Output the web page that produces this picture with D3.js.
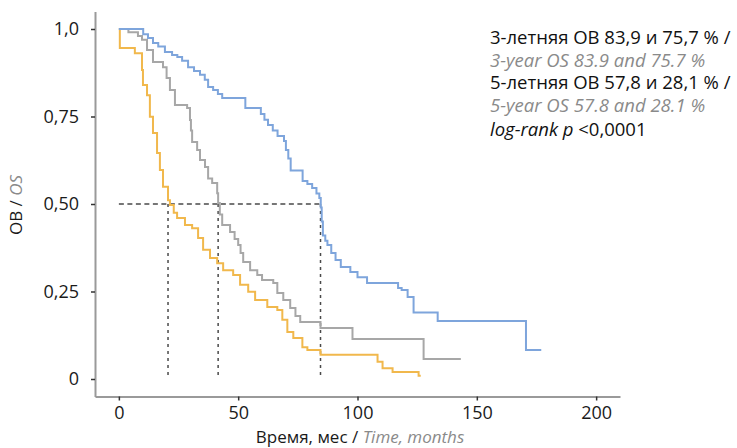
<!DOCTYPE html>
<html>
<head>
<meta charset="utf-8">
<script src="https://cdn.jsdelivr.net/npm/d3@7"></script>
<style>
  body { margin: 0; background: #fff; }
  text { font-family: "Open Sans", "Noto Sans", sans-serif; }
</style>
</head>
<body>
<div id="chart"></div>
<script>
// Kaplan-Meier steps (months, survival)
const blueTime = [0, 10.2, 12.2, 14.3, 16.5, 19.3, 22.3, 24.5, 26.5, 29, 31.5, 34, 36, 37.4, 39.5, 41.5, 43.3, 53, 59.5, 61, 62.5, 64.5, 66.5, 69.2, 70, 71, 72, 77, 79, 81, 82.8, 84, 84.6, 85, 85.5, 86.5, 87.4, 89, 90.8, 93, 97, 100, 104, 117, 118.5, 121, 123.5, 133.6, 170.6, 177];
const blueSurv = [1, 0.985, 0.974, 0.96, 0.95, 0.934, 0.926, 0.92, 0.909, 0.891, 0.88, 0.869, 0.855, 0.834, 0.826, 0.814, 0.803, 0.774, 0.757, 0.741, 0.726, 0.71, 0.694, 0.68, 0.654, 0.63, 0.596, 0.566, 0.557, 0.546, 0.53, 0.517, 0.49, 0.45, 0.41, 0.395, 0.383, 0.36, 0.34, 0.32, 0.306, 0.291, 0.274, 0.26, 0.254, 0.234, 0.19, 0.166, 0.083, 0.083];

const grayTime = [0, 4, 8, 9.7, 11.8, 14.3, 18.5, 20, 21.4, 23.5, 28.6, 29.8, 30.2, 30.7, 32.8, 34, 36.1, 37.4, 39.1, 41.2, 41.6, 42.3, 43.3, 46.6, 48.5, 50, 51, 52.1, 55, 58, 60, 64.7, 66.4, 68.9, 71.8, 74, 76, 84.5, 97.9, 127.7, 143.3];
const graySurv = [1, 0.991, 0.98, 0.969, 0.94, 0.906, 0.891, 0.86, 0.826, 0.783, 0.774, 0.74, 0.71, 0.677, 0.654, 0.626, 0.606, 0.573, 0.56, 0.531, 0.503, 0.47, 0.44, 0.42, 0.4, 0.383, 0.36, 0.334, 0.311, 0.297, 0.283, 0.274, 0.246, 0.226, 0.203, 0.18, 0.163, 0.146, 0.114, 0.057, 0.057];

const yellowTime = [0, 0.4, 6.7, 9.7, 10.1, 11.8, 13, 14.3, 16, 17.2, 18.5, 20.6, 21.4, 23, 24.4, 27.7, 30.7, 33.2, 35.3, 38.2, 41.2, 43.7, 47.9, 50.8, 54.2, 57.1, 62.2, 66.4, 68.5, 70.6, 73.1, 76.9, 79, 84.5, 108.4, 110.5, 114.7, 125.6, 126.5];
const yellowSurv = [1, 0.946, 0.931, 0.883, 0.84, 0.811, 0.749, 0.703, 0.646, 0.597, 0.549, 0.511, 0.497, 0.475, 0.46, 0.44, 0.431, 0.403, 0.369, 0.346, 0.331, 0.311, 0.297, 0.269, 0.249, 0.226, 0.206, 0.197, 0.169, 0.134, 0.117, 0.091, 0.083, 0.069, 0.049, 0.031, 0.02, 0.009, 0.009];

const medians = [20.6, 41.6, 84.5];

const xTicks = [0, 50, 100, 150, 200];
const yTicks = [0, 0.25, 0.5, 0.75, 1.0];
const yTickLabels = ["0", "0,25", "0,50", "0,75", "1,0"];

const notes = [
  [{ t: "3-летняя ОВ 83,9 и 75,7 % /" }],
  [{ t: "3-year OS 83.9 and 75.7 %", en: true }],
  [{ t: "5-летняя ОВ 57,8 и 28,1 % /" }],
  [{ t: "5-year OS 57.8 and 28.1 %", en: true }],
  [{ t: "log-rank p", it: true }, { t: " <0,0001" }],
];

const WIDTH = 737, HEIGHT = 448;

const svg = d3.select("#chart").append("svg")
  .attr("width", WIDTH).attr("height", HEIGHT);

const x = d3.scaleLinear().domain([-10, 210]).range([95, 620]);
const y = d3.scaleLinear().domain([-0.05, 1.05]).range([396.5, 11.5]);

/** axes */
const yAxis = svg.append("g").attr("transform", "translate(95,0)")
  .call(d3.axisLeft(y).tickValues(yTicks).tickFormat((d, i) => yTickLabels[i])
    .tickSize(4).tickSizeOuter(0).tickPadding(12));
const xAxis = svg.append("g").attr("transform", "translate(0,396.5)")
  .call(d3.axisBottom(x).tickValues(xTicks).tickSize(4).tickSizeOuter(0).tickPadding(6));

[yAxis, xAxis].forEach(g => {
  g.select(".domain").attr("stroke", "#9a9a9a").attr("stroke-width", 2);
  g.selectAll(".tick line").attr("stroke", "#333").attr("stroke-width", 1.5);
  g.selectAll(".tick text").attr("fill", "#1a1a1a")
    .style("font-size", "18px").style("font-family", "'Open Sans', sans-serif");
});

/** median dashed guides */
const guides = svg.append("g").attr("stroke", "#4a4a4a").attr("stroke-width", 1.5).attr("fill", "none");
guides.append("line")
  .attr("x1", x(0)).attr("x2", x(d3.max(medians)))
  .attr("y1", y(0.5)).attr("y2", y(0.5))
  .attr("stroke-dasharray", "5,3.5");
guides.selectAll("line.v").data(medians).enter().append("line")
  .attr("class", "v")
  .attr("x1", d => x(d)).attr("x2", d => x(d))
  .attr("y1", y(0.5)).attr("y2", y(0))
  .attr("stroke-dasharray", "3,4");

/** survival curves */
const line = d3.line().curve(d3.curveStepAfter).x(d => x(d[0])).y(d => y(d[1]));
const curves = [
  { time: yellowTime, surv: yellowSurv, color: "#f1b84c" },
  { time: grayTime, surv: graySurv, color: "#a7a7a7" },
  { time: blueTime, surv: blueSurv, color: "#7ea5dc" },
];
svg.append("g").selectAll("path").data(curves).enter().append("path")
  .attr("fill", "none")
  .attr("stroke", d => d.color)
  .attr("stroke-width", 2)
  .attr("d", d => line(d.time.map((t, i) => [t, d.surv[i]])));

/** axis titles */
const yTitle = svg.append("text")
  .attr("transform", "translate(22,205) rotate(-90)")
  .attr("text-anchor", "middle")
  .style("font-size", "17px").attr("fill", "#1a1a1a");
yTitle.append("tspan").text("ОВ / ");
yTitle.append("tspan").attr("fill", "#8a8a8a").style("font-style", "italic").text("OS");

const xTitle = svg.append("text")
  .attr("x", 360).attr("y", 443)
  .attr("text-anchor", "middle")
  .style("font-size", "17px").attr("fill", "#1a1a1a");
xTitle.append("tspan").text("Время, мес / ");
xTitle.append("tspan").attr("fill", "#8a8a8a").style("font-style", "italic").text("Time, months");

/** notes block */
const noteY = [44, 66.5, 89, 111.5, 136];
const noteG = svg.append("g");
notes.forEach((parts, i) => {
  const t = noteG.append("text").attr("x", 490).attr("y", noteY[i])
    .style("font-size", "18.5px").attr("fill", "#111");
  parts.forEach(p => {
    const s = t.append("tspan").text(p.t);
    if (p.en) s.attr("fill", "#8a8a8a").style("font-style", "italic");
    if (p.it) s.style("font-style", "italic");
  });
});
</script>
</body>
</html>
